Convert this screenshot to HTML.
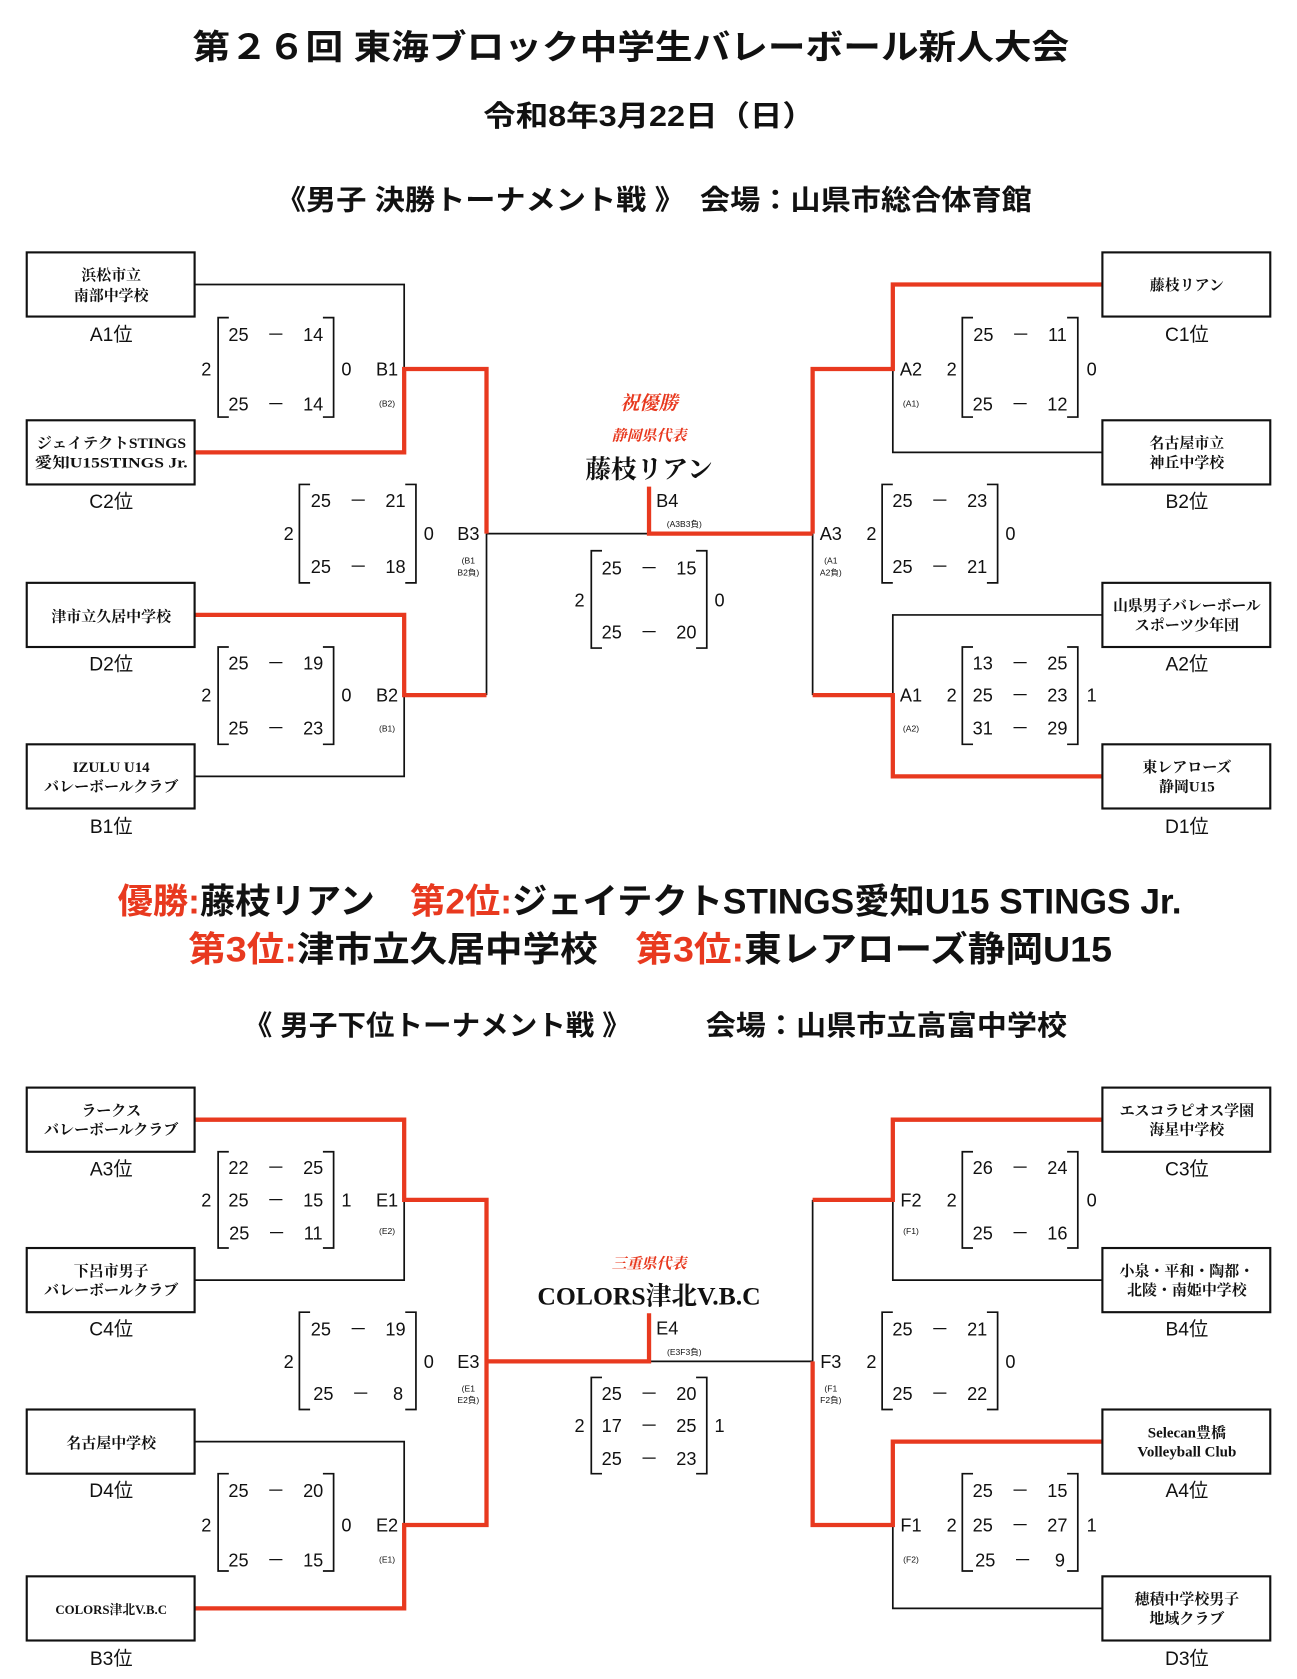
<!DOCTYPE html>
<html><head><meta charset="utf-8"><style>
html,body{margin:0;padding:0;background:#fff}
svg{display:block}
text{font-family:"Liberation Sans","Noto Sans CJK JP",sans-serif;fill:#111}
.s text, text.s{font-family:"Liberation Serif","Noto Serif CJK SC","Noto Sans CJK JP",serif;font-weight:bold}
.r{fill:#e8391f}
.k{stroke:#111;stroke-width:1.6;fill:none}
.rd{stroke:#e8391f;stroke-width:4;fill:none}
.bx{stroke:#111;stroke-width:2;fill:#fff}
.sc{font-size:17px}
.sm{font-size:8px}
.lb{font-size:18px}
</style></head><body>
<svg width="1297" height="1679" viewBox="0 0 1213 1570" preserveAspectRatio="none">
<text x="590" y="55" text-anchor="middle" font-size="32" font-weight="bold" textLength="820" lengthAdjust="spacingAndGlyphs">第２６回 東海ブロック中学生バレーボール新人大会</text>
<text x="607" y="118" text-anchor="middle" font-size="27" font-weight="bold" textLength="310" lengthAdjust="spacingAndGlyphs">令和8年3月22日（日）</text>
<text x="258" y="196" font-size="26" font-weight="bold" textLength="707" lengthAdjust="spacingAndGlyphs">《男子 決勝トーナメント戦 》　会場：山県市総合体育館</text>

<g class="k">
<path d="M182 266H378V345"/><path d="M455 499V650"/><path d="M455 499H607"/><path d="M182 726H378V650"/>
<path d="M1031 423H835V345"/><path d="M760 499V650"/><path d="M1031 575H835V650"/>
</g>
<g class="rd">
<path d="M182 423H378V345H455V499"/><path d="M182 575H378V650H455"/>
<path d="M607 455V499H760"/><path d="M1031 266H835V345H760V499"/><path d="M760 650H835V726H1031"/>
</g>
<g class="bx">
<rect x="25" y="236" width="157" height="60"/><rect x="25" y="393" width="157" height="60"/><rect x="25" y="545" width="157" height="60"/><rect x="25" y="696" width="157" height="60"/>
<rect x="1031" y="236" width="157" height="60"/><rect x="1031" y="393" width="157" height="60"/><rect x="1031" y="545" width="157" height="60"/><rect x="1031" y="696" width="157" height="60"/>
</g>
<g class="s" font-size="14" text-anchor="middle">
<text x="104" y="262">浜松市立</text><text x="104" y="281">南部中学校</text>
<text x="104" y="419" textLength="140" lengthAdjust="spacingAndGlyphs">ジェイテクトSTINGS</text><text x="104" y="437" textLength="143" lengthAdjust="spacingAndGlyphs">愛知U15STINGS  Jr.</text>
<text x="104" y="581">津市立久居中学校</text>
<text x="104" y="722">IZULU U14</text><text x="104" y="740">バレーボールクラブ</text>
<text x="1110" y="271">藤枝リアン</text>
<text x="1110" y="419">名古屋市立</text><text x="1110" y="437">神丘中学校</text>
<text x="1110" y="571" textLength="138" lengthAdjust="spacingAndGlyphs">山県男子バレーボール</text><text x="1110" y="589">スポーツ少年団</text>
<text x="1110" y="722">東レアローズ</text><text x="1110" y="740">静岡U15</text>
</g>
<g class="lb" text-anchor="middle">
<text x="104" y="319">A1位</text><text x="104" y="475">C2位</text><text x="104" y="627">D2位</text><text x="104" y="779">B1位</text>
<text x="1110" y="319">C1位</text><text x="1110" y="475">B2位</text><text x="1110" y="627">A2位</text><text x="1110" y="779">D1位</text>
</g>
<g class="k" stroke-width="2">
<path d="M214 297H204V390H214M302 297H312V390H302"/>
<path d="M290 453H280V545H290M379 453H389V545H379"/>
<path d="M214 605H204V696H214M302 605H312V696H302"/>
<path d="M563 515H553V606H563M651 515H661V606H651"/>
<path d="M910 297H900V390H910M998 297H1008V390H998"/>
<path d="M835 453H825V545H835M923 453H933V545H923"/>
<path d="M910 605H900V696H910M998 605H1008V696H998"/>
</g>
<g class="sc" text-anchor="middle">
<text x="258" y="319">25　－　14</text><text x="258" y="384">25　－　14</text>
<text x="193" y="351">2</text><text x="324" y="351">0</text>
<text x="335" y="474">25　－　21</text><text x="335" y="536">25　－　18</text>
<text x="270" y="505">2</text><text x="401" y="505">0</text>
<text x="258" y="626">25　－　19</text><text x="258" y="687">25　－　23</text>
<text x="193" y="656">2</text><text x="324" y="656">0</text>
<text x="607" y="537">25　－　15</text><text x="607" y="597">25　－　20</text>
<text x="542" y="567">2</text><text x="673" y="567">0</text>
<text x="954" y="319">25　－　11</text><text x="954" y="384">25　－　12</text>
<text x="890" y="351">2</text><text x="1021" y="351">0</text>
<text x="879" y="474">25　－　23</text><text x="879" y="536">25　－　21</text>
<text x="815" y="505">2</text><text x="945" y="505">0</text>
<text x="954" y="626">13　－　25</text><text x="954" y="656">25　－　23</text><text x="954" y="687">31　－　29</text>
<text x="890" y="656">2</text><text x="1021" y="656">1</text>
<text x="362" y="351">B1</text><text x="438" y="505">B3</text><text x="362" y="656">B2</text><text x="624" y="474">B4</text>
<text x="852" y="351">A2</text><text x="777" y="505">A3</text><text x="852" y="656">A1</text>
</g>
<g class="sm" text-anchor="middle">
<text x="362" y="380">(B2)</text><text x="438" y="527">(B1</text><text x="438" y="538">B2負)</text><text x="362" y="684">(B1)</text>
<text x="640" y="493">(A3B3負)</text><text x="852" y="380">(A1)</text><text x="777" y="527">(A1</text><text x="777" y="538">A2負)</text><text x="852" y="684">(A2)</text>
</g>
<text x="607" y="383" text-anchor="middle" class="s r" font-size="18" font-style="italic">祝優勝</text>
<text x="607" y="412" text-anchor="middle" class="s r" font-size="14" font-style="italic">静岡県代表</text>
<text x="607" y="447" text-anchor="middle" class="s" font-size="24">藤枝リアン</text>

<text x="110" y="854" font-size="33" font-weight="bold" textLength="995" lengthAdjust="spacingAndGlyphs"><tspan class="r">優勝:</tspan>藤枝リアン　<tspan class="r">第2位:</tspan>ジェイテクトSTINGS愛知U15 STINGS Jr.</text>
<text x="176" y="899" font-size="33" font-weight="bold" textLength="864" lengthAdjust="spacingAndGlyphs"><tspan class="r">第3位:</tspan>津市立久居中学校　<tspan class="r">第3位:</tspan>東レアローズ静岡U15</text>
<text x="228" y="968" font-size="26" font-weight="bold" textLength="362" lengthAdjust="spacingAndGlyphs">《 男子下位トーナメント戦 》</text>
<text x="660" y="968" font-size="26" font-weight="bold" textLength="338" lengthAdjust="spacingAndGlyphs">会場：山県市立高富中学校</text>

<g class="k">
<path d="M182 1197H378V1122"/><path d="M182 1348H378V1426"/><path d="M607 1273H760"/>
<path d="M760 1122V1273"/><path d="M1031 1197H835V1122"/><path d="M1031 1504H835V1426"/>
</g>
<g class="rd">
<path d="M182 1047H378V1122H455V1426H378V1504H182"/><path d="M455 1273H607V1228"/>
<path d="M1031 1047H835V1122H760"/><path d="M760 1273V1426H835V1348H1031"/>
</g>
<g class="bx">
<rect x="25" y="1017" width="157" height="60"/><rect x="25" y="1167" width="157" height="60"/><rect x="25" y="1318" width="157" height="60"/><rect x="25" y="1474" width="157" height="60"/>
<rect x="1031" y="1017" width="157" height="60"/><rect x="1031" y="1167" width="157" height="60"/><rect x="1031" y="1318" width="157" height="60"/><rect x="1031" y="1474" width="157" height="60"/>
</g>
<g class="s" font-size="14" text-anchor="middle">
<text x="104" y="1043">ラークス</text><text x="104" y="1061">バレーボールクラブ</text>
<text x="104" y="1193">下呂市男子</text><text x="104" y="1211">バレーボールクラブ</text>
<text x="104" y="1354">名古屋中学校</text>
<text x="104" y="1509" font-size="12">COLORS津北V.B.C</text>
<text x="1110" y="1043">エスコラピオス学園</text><text x="1110" y="1061">海星中学校</text>
<text x="1110" y="1193">小泉・平和・陶都・</text><text x="1110" y="1211">北陵・南姫中学校</text>
<text x="1110" y="1344">Selecan豊橋</text><text x="1110" y="1362">Volleyball Club</text>
<text x="1110" y="1500">穂積中学校男子</text><text x="1110" y="1518">地域クラブ</text>
</g>
<g class="lb" text-anchor="middle">
<text x="104" y="1099">A3位</text><text x="104" y="1249">C4位</text><text x="104" y="1400">D4位</text><text x="104" y="1557">B3位</text>
<text x="1110" y="1099">C3位</text><text x="1110" y="1249">B4位</text><text x="1110" y="1400">A4位</text><text x="1110" y="1557">D3位</text>
</g>
<g class="k" stroke-width="2">
<path d="M214 1077H204V1167H214M302 1077H312V1167H302"/>
<path d="M290 1227H280V1318H290M379 1227H389V1318H379"/>
<path d="M214 1378H204V1469H214M302 1378H312V1469H302"/>
<path d="M563 1288H553V1378H563M651 1288H661V1378H651"/>
<path d="M910 1077H900V1167H910M998 1077H1008V1167H998"/>
<path d="M835 1227H825V1318H835M923 1227H933V1318H923"/>
<path d="M910 1378H900V1469H910M998 1378H1008V1469H998"/>
</g>
<g class="sc" text-anchor="middle">
<text x="258" y="1098">22　－　25</text><text x="258" y="1128">25　－　15</text><text x="258" y="1159">25　－　11</text>
<text x="193" y="1128">2</text><text x="324" y="1128">1</text>
<text x="335" y="1249">25　－　19</text><text x="335" y="1309">25　－　 8</text>
<text x="270" y="1279">2</text><text x="401" y="1279">0</text>
<text x="258" y="1400">25　－　20</text><text x="258" y="1465">25　－　15</text>
<text x="193" y="1432">2</text><text x="324" y="1432">0</text>
<text x="607" y="1309">25　－　20</text><text x="607" y="1339">17　－　25</text><text x="607" y="1370">25　－　23</text>
<text x="542" y="1339">2</text><text x="673" y="1339">1</text>
<text x="954" y="1098">26　－　24</text><text x="954" y="1159">25　－　16</text>
<text x="890" y="1128">2</text><text x="1021" y="1128">0</text>
<text x="879" y="1249">25　－　21</text><text x="879" y="1309">25　－　22</text>
<text x="815" y="1279">2</text><text x="945" y="1279">0</text>
<text x="954" y="1400">25　－　15</text><text x="954" y="1432">25　－　27</text><text x="954" y="1465">25　－　 9</text>
<text x="890" y="1432">2</text><text x="1021" y="1432">1</text>
<text x="362" y="1128">E1</text><text x="438" y="1279">E3</text><text x="362" y="1432">E2</text><text x="624" y="1248">E4</text>
<text x="852" y="1128">F2</text><text x="777" y="1279">F3</text><text x="852" y="1432">F1</text>
</g>
<g class="sm" text-anchor="middle">
<text x="362" y="1154">(E2)</text><text x="438" y="1301">(E1</text><text x="438" y="1312">E2負)</text><text x="362" y="1461">(E1)</text>
<text x="640" y="1267">(E3F3負)</text><text x="852" y="1154">(F1)</text><text x="777" y="1301">(F1</text><text x="777" y="1312">F2負)</text><text x="852" y="1461">(F2)</text>
</g>
<text x="607" y="1186" text-anchor="middle" class="s r" font-size="14" font-style="italic">三重県代表</text>
<text x="607" y="1220" text-anchor="middle" class="s" font-size="24" font-weight="normal">COLORS津北V.B.C</text>
</svg>
</body></html>
